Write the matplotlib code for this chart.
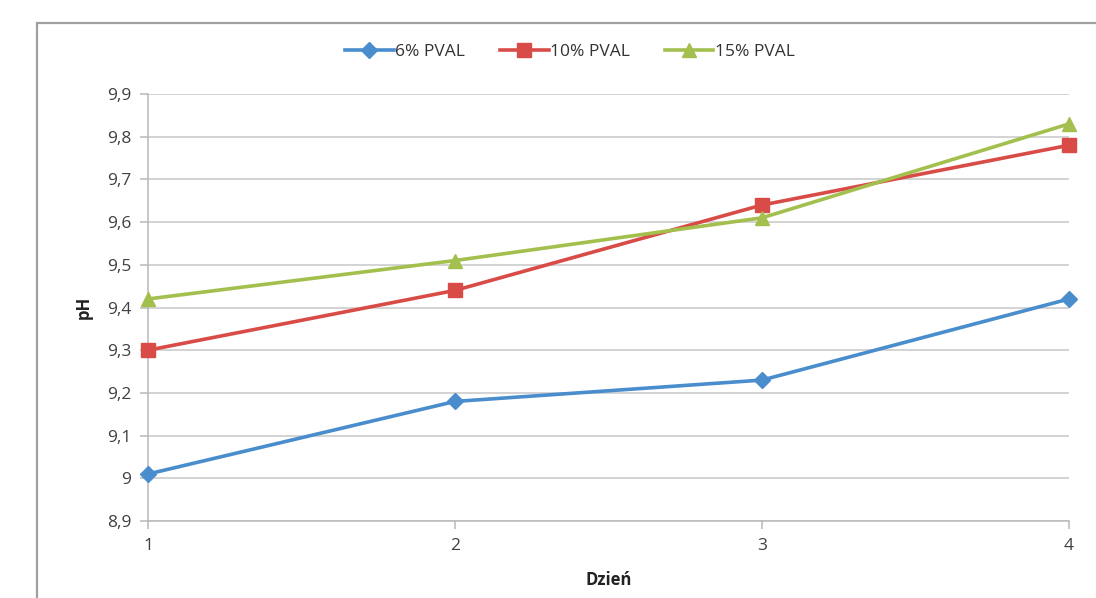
import matplotlib
matplotlib.use("Agg")
import matplotlib.pyplot as plt
from matplotlib.patches import Rectangle
from matplotlib.ticker import FixedLocator, FuncFormatter

days = [1, 2, 3, 4]
series_names = ["6% PVAL", "10% PVAL", "15% PVAL"]
ph_6 = [9.01, 9.18, 9.23, 9.42]
ph_10 = [9.30, 9.44, 9.64, 9.78]
ph_15 = [9.42, 9.51, 9.61, 9.83]
y_ticks = [8.9, 9.0, 9.1, 9.2, 9.3, 9.4, 9.5, 9.6, 9.7, 9.8, 9.9]

plt.rcParams["font.family"] = ["Open Sans", "DejaVu Sans"]

W, H = 1096, 598
fig = plt.figure(figsize=(W / 100, H / 100), dpi=100)

# chart frame
fig.patches.append(Rectangle((37 / W, -0.1), 1.2, 1 - 23 / H + 0.1,
                             transform=fig.transFigure, fill=False,
                             edgecolor="#a0a0a0", linewidth=1.6))

ax = fig.add_axes([148 / W, 1 - 521 / H, (1069 - 148) / W, (521 - 94) / H])

colors = ["#4A8DCD", "#D94B46", "#A3BF4D"]
markers = ["D", "s", "^"]
msizes = [8, 10, 10]
for vals, name, c, m, ms in zip([ph_6, ph_10, ph_15], series_names, colors, markers, msizes):
    ax.plot(days, vals, color=c, marker=m, markersize=ms, linewidth=2.6,
            label=name, clip_on=False, zorder=3)

ax.set_xlim(1, 4)
ax.set_ylim(8.9, 9.9)
ax.set_xticks(days)
ax.yaxis.set_major_locator(FixedLocator(y_ticks))
ax.yaxis.set_major_formatter(FuncFormatter(
    lambda v, p: ("%g" % round(v, 1)).replace(".", ",")))

ax.grid(axis="y", color="#c8c8c8", linewidth=1.1)
ax.set_axisbelow(True)
for s in ["top", "right"]:
    ax.spines[s].set_visible(False)
for s in ["left", "bottom"]:
    ax.spines[s].set_color("#b8b8b8")
    ax.spines[s].set_linewidth(1.1)
ax.tick_params(axis="both", colors="#b8b8b8", labelcolor="#404040",
               labelsize=12.5, length=6, width=1.1)
ax.tick_params(axis="x", pad=6)
ax.tick_params(axis="y", pad=6)

ax.set_xlabel("Dzień", fontsize=12, fontweight="bold", color="#222222")
ax.xaxis.set_label_coords(0.5, -0.118)
ax.set_ylabel("pH", fontsize=12, fontweight="bold", color="#222222")
ax.yaxis.set_label_coords(-0.06, 0.5)

leg = fig.legend(loc="center", bbox_to_anchor=(570 / W, 1 - 52 / H), ncol=3,
                 frameon=False, fontsize=12.5, handlelength=2.8,
                 columnspacing=2.0, handletextpad=0.1, labelcolor="#333333")

fig.savefig("out.png", dpi=100, facecolor="white")
